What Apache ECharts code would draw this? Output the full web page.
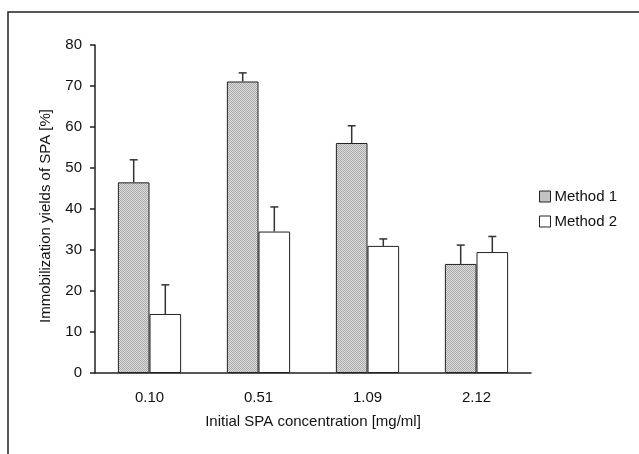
<!DOCTYPE html>
<html>
<head>
<meta charset="utf-8">
<script src="https://cdn.jsdelivr.net/npm/echarts@6/dist/echarts.min.js"></script>
<style>
html, body { margin: 0; padding: 0; background: #fff; }
#chart { width: 639px; height: 454px; }
</style>
</head>
<body>
<div id="chart"></div>
<script>
// values
var concentrations = ['0.10', '0.51', '1.09', '2.12'];
var method1 = [46.5, 71.1, 56.1, 26.6];
var method1Err = [5.5, 2.1, 4.2, 4.6];
var method2 = [14.4, 34.5, 31.0, 29.5];
var method2Err = [7.1, 6.0, 1.7, 3.8];
var yTicks = [0, 80, 10];

var gapPct = 0.42;
var font = 'Liberation Sans, Arial, sans-serif';

// grey dither fill like the original
function dither() {
    var c = document.createElement('canvas');
    c.width = 2;
    c.height = 2;
    var g = c.getContext('2d');
    g.fillStyle = '#dcdcdc';
    g.fillRect(0, 0, 2, 2);
    g.fillStyle = '#aaaaaa';
    g.fillRect(0, 0, 1, 1);
    g.fillRect(1, 1, 1, 1);
    return c;
}
var hatch = { image: dither(), repeat: 'repeat' };

function errSeries(vals, errs, side) {
    return {
        type: 'custom',
        z: 1,
        silent: true,
        data: vals.map(function(v, i) { return [i, v, v + errs[i]]; }),
        renderItem: function(params, api) {
            var band = api.size([1, 0])[0];
            var bw = band * (1 - gapPct) / 2;
            var base = api.coord([api.value(0), api.value(1)]);
            var top = api.coord([api.value(0), api.value(2)]);
            var x = base[0] + side * bw / 2;
            var st = { stroke: '#333', lineWidth: 1.5 };
            return {
                type: 'group',
                children: [
                    { type: 'line', shape: { x1: x, y1: base[1], x2: x, y2: top[1] }, style: st },
                    { type: 'line', shape: { x1: x - 4, y1: top[1], x2: x + 4, y2: top[1] }, style: st }
                ]
            };
        }
    };
}

var chart = echarts.init(document.getElementById('chart'));
chart.setOption({
    backgroundColor: '#fff',
    animation: false,
    textStyle: { fontFamily: font },
    graphic: [
        { type: 'polyline', shape: { points: [[8, 454], [8, 12], [639, 12]] }, style: { stroke: '#222', lineWidth: 1.5, fill: null } },
        {
            type: 'text',
            x: 46,
            y: 216,
            rotation: Math.PI / 2,
            style: { text: 'Immobilization yields of SPA [%]', fontFamily: font, fontSize: 15, fill: '#111', align: 'center', verticalAlign: 'middle' }
        }
    ],
    grid: { left: 95, right: 108, top: 45, bottom: 81 },
    legend: {
        orient: 'vertical',
        left: 534,
        top: 184,
        icon: 'rect',
        itemWidth: 11,
        itemHeight: 11,
        itemGap: 10,
        textStyle: { fontFamily: font, fontSize: 15, color: '#111', padding: [0, 0, 0, -1] },
        data: [
            { name: 'Method 1', itemStyle: { color: hatch, borderColor: '#222', borderWidth: 1 } },
            { name: 'Method 2', itemStyle: { color: '#fff', borderColor: '#222', borderWidth: 1 } }
        ]
    },
    xAxis: {
        type: 'category',
        data: concentrations,
        name: 'Initial SPA concentration [mg/ml]',
        nameLocation: 'middle',
        nameGap: 41,
        nameTextStyle: { fontFamily: font, fontSize: 15, color: '#111' },
        axisLine: { lineStyle: { color: '#222', width: 1.5 } },
        axisTick: { length: 5, lineStyle: { color: '#222', width: 1.5 } },
        axisLabel: { margin: 17, fontFamily: font, fontSize: 15, color: '#111' }
    },
    yAxis: {
        type: 'value',
        min: yTicks[0],
        max: yTicks[1],
        interval: yTicks[2],
        splitLine: { show: false },
        axisLine: { show: true, lineStyle: { color: '#222', width: 1.5 } },
        axisTick: { show: true, inside: false, length: 5, lineStyle: { color: '#222', width: 1.5 } },
        axisLabel: { margin: 13, fontFamily: font, fontSize: 15, color: '#111' }
    },
    series: [
        {
            name: 'Method 1',
            type: 'bar',
            data: method1,
            barGap: '0%',
            barCategoryGap: (gapPct * 100) + '%',
            z: 2,
            itemStyle: { color: hatch, borderColor: '#222', borderWidth: 1 }
        },
        {
            name: 'Method 2',
            type: 'bar',
            data: method2,
            z: 2,
            itemStyle: { color: '#fff', borderColor: '#222', borderWidth: 1 }
        },
        errSeries(method1, method1Err, -1),
        errSeries(method2, method2Err, 1)
    ]
});
</script>
</body>
</html>
